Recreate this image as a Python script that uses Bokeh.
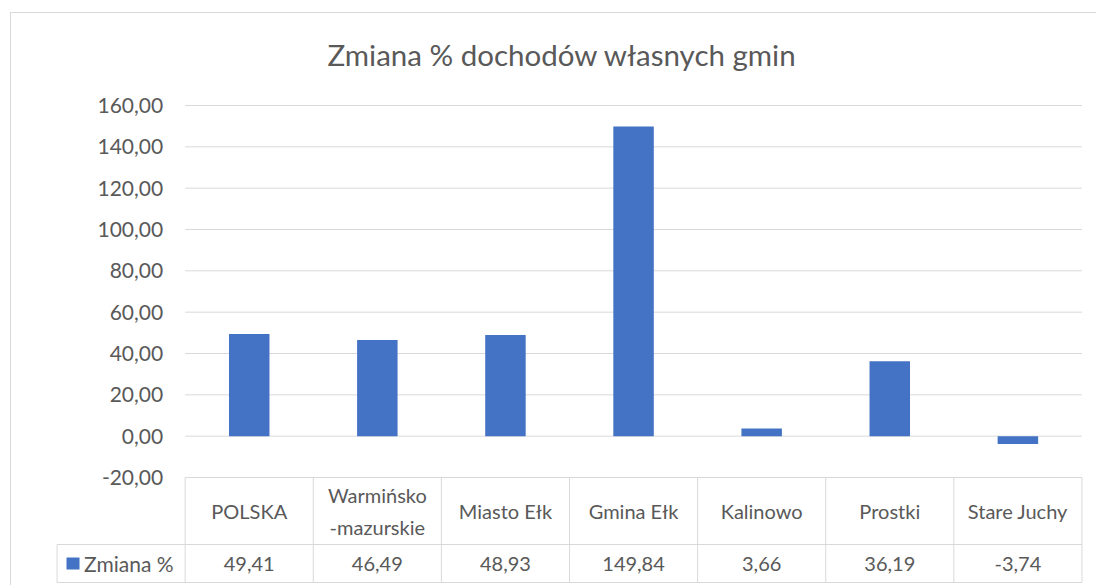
from bokeh.plotting import figure
from bokeh.models import FactorRange, Range1d, FixedTicker
from bokeh.core.properties import value
from bokeh.embed import file_html
from bokeh.resources import INLINE

# ---------------- data ----------------
title_text = "Zmiana % dochodów własnych gmin"
series_name = "Zmiana %"
categories = ["POLSKA", "Warmińsko-mazurskie", "Miasto Ełk", "Gmina Ełk",
              "Kalinowo", "Prostki", "Stare Juchy"]
header_labels = ["POLSKA", "Warmińsko\n-mazurskie", "Miasto Ełk", "Gmina Ełk",
                 "Kalinowo", "Prostki", "Stare Juchy"]
values = [49.41, 46.49, 48.93, 149.84, 3.66, 36.19, -3.74]
value_labels = ["49,41", "46,49", "48,93", "149,84", "3,66", "36,19", "-3,74"]
y_ticks = [-20, 0, 20, 40, 60, 80, 100, 120, 140, 160]
y_tick_labels = ["-20,00", "0,00", "20,00", "40,00", "60,00", "80,00",
                 "100,00", "120,00", "140,00", "160,00"]

# ---------------- style / layout constants ----------------
FONT = "Lato"
TXT = "#595959"
GRID = "#D9D9D9"
BAR = "#4472C4"
W, H = 1086, 573
MB_LEFT, MB_RIGHT, MB_TOP, MB_BOTTOM = 43, 13, 80, 2
PPU = 372 / 180.0                       # pixels per value unit
frame_h = H - MB_TOP - MB_BOTTOM
y_end = y_ticks[-1] + 12 / PPU          # room above the top grid line for its label
y_start = y_end - frame_h / PPU
row1_bottom = y_ticks[0] - 67 / PPU     # header row of the data table
row2_bottom = y_ticks[0] - 105 / PPU    # value row of the data table
header_mid = (y_ticks[0] + row1_bottom) / 2
values_mid = (row1_bottom + row2_bottom) / 2

factors = ["_legend"] + categories      # first column holds the legend key
n = len(factors)

p = figure(width=W, height=H,
           x_range=FactorRange(*factors, range_padding=0.02,
                               range_padding_units="absolute"),
           y_range=Range1d(y_start, y_end),
           x_axis_location=None,
           output_backend="svg", toolbar_location=None,
           min_border_left=MB_LEFT, min_border_right=MB_RIGHT,
           min_border_top=MB_TOP, min_border_bottom=MB_BOTTOM,
           margin=(12, 0, 0, 10),
           styles={"border-top": "1px solid #D9D9D9",
                   "border-left": "1px solid #D9D9D9"})
p.outline_line_color = None
p.xgrid.grid_line_color = None
p.ygrid.grid_line_color = None

p.title.text = title_text
p.title.align = "left"
p.title.offset = 273
p.title.standoff = 43
p.title.text_font = FONT
p.title.text_font_size = "29.5px"
p.title.text_font_style = "normal"
p.title.text_color = TXT

ax = p.yaxis[0]
ax.fixed_location = 1                    # boundary between legend column and plot
ax.ticker = FixedTicker(ticks=y_ticks)
ax.major_label_overrides = {t: l for t, l in zip(y_ticks, y_tick_labels)}
ax.axis_line_color = None
ax.major_tick_line_color = None
ax.minor_tick_line_color = None
ax.major_tick_out = 0
ax.major_tick_in = 0
ax.major_label_standoff = 22
ax.major_label_text_font = FONT
ax.major_label_text_font_size = "21px"
ax.major_label_text_color = TXT

# horizontal grid lines over the plot columns only
p.segment(x0=[1] * len(y_ticks), x1=[n] * len(y_ticks), y0=y_ticks, y1=y_ticks,
          line_color=GRID, line_width=1)

# bars
p.vbar(x=categories, top=values, bottom=0, width=0.316,
       fill_color=BAR, line_color=None)

# data table: header row
hb = list(range(1, n + 1))
p.segment(x0=hb, x1=hb, y0=[y_ticks[0]] * len(hb), y1=[row1_bottom] * len(hb),
          line_color=GRID, line_width=1)
# value row
vb = list(range(0, n + 1))
p.segment(x0=vb, x1=vb, y0=[row1_bottom] * len(vb), y1=[row2_bottom] * len(vb),
          line_color=GRID, line_width=1)
p.segment(x0=[0, 0], x1=[n, n], y0=[row1_bottom, row2_bottom],
          y1=[row1_bottom, row2_bottom], line_color=GRID, line_width=1)

p.text(x=categories, y=[header_mid] * len(categories), text=header_labels,
       text_align="center", text_baseline="middle",
       text_font=value(FONT), text_font_size="20px", text_color=TXT,
       text_line_height=1.35)
p.text(x=categories, y=[values_mid] * len(categories), text=value_labels,
       text_align="center", text_baseline="middle",
       text_font=value(FONT), text_font_size="20px", text_color=TXT)

# legend key in the first column
p.rect(x=[16 / 128.5], y=[values_mid], width=13, height=12,
       width_units="screen", height_units="screen",
       fill_color=BAR, line_color=None)
p.text(x=[0], y=[values_mid], text=[series_name], x_offset=27,
       text_align="left", text_baseline="middle",
       text_font=value(FONT), text_font_size="21px", text_color=TXT)

open("out.html", "w").write(file_html(p, INLINE))
